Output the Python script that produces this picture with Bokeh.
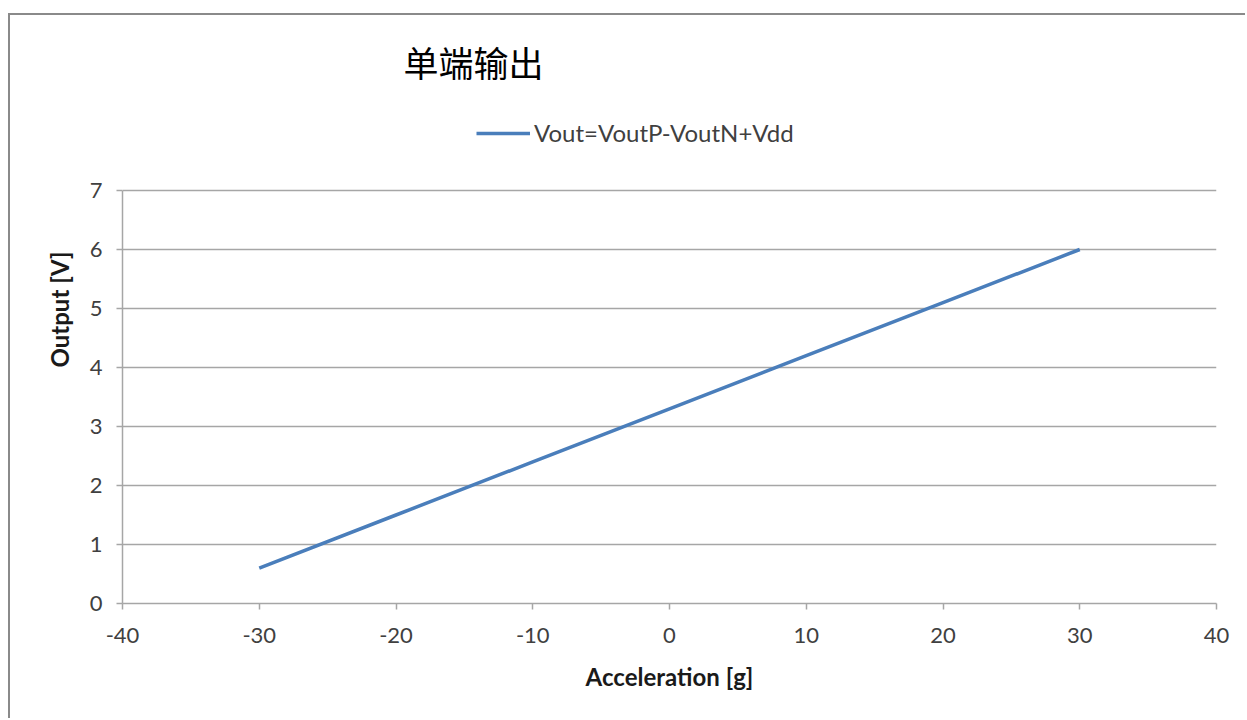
from bokeh.plotting import figure
from bokeh.models import Range1d, FixedTicker, Legend, LegendItem, Label, CustomJSTickFormatter
from bokeh.embed import file_html
from bokeh.resources import INLINE

# data
accel = [-30, -20, -10, 0, 10, 20, 30]
vout = [0.6, 1.5, 2.4, 3.3, 4.2, 5.1, 6.0]
x_ticks = [-40, -30, -20, -10, 0, 10, 20, 30, 40]
y_ticks = [0, 1, 2, 3, 4, 5, 6, 7]
title_text = "单端输出"
series_name = "Vout=VoutP-VoutN+Vdd"
x_label = "Acceleration [g]"
y_label = "Output [V]"

FONT = "Lato"
GRID = "#a6a6a6"
TXT = "#404040"
BLUE = "#4a7ebb"

OX, OY = 10, 15  # canvas offset produced by margin + border
FRAME_TOP, AXIS_TOP, FRAME_BOTTOM = 15, 190, 603  # page pixels
y_min, y_max = y_ticks[0], y_ticks[-1]
y_end = y_min + (y_max - y_min) * (FRAME_BOTTOM - FRAME_TOP) / (FRAME_BOTTOM - AXIS_TOP)

p = figure(width=1247 - OX, height=720 - OY, output_backend="svg", toolbar_location=None,
           x_range=Range1d(x_ticks[0], x_ticks[-1]), y_range=Range1d(y_min, y_end),
           min_border_left=122 - OX, min_border_right=31, min_border_top=FRAME_TOP - OY,
           min_border_bottom=720 - FRAME_BOTTOM)
p.margin = (13, 0, 0, 8)
p.styles = {"border-left": "2px solid #8a8a8a", "border-top": "2px solid #8a8a8a"}
p.outline_line_color = None
p.background_fill_color = "white"
p.border_fill_color = "white"

r = p.line(accel, vout, line_color=BLUE, line_width=3.5)

p.xgrid.visible = False
p.ygrid.grid_line_color = GRID
p.ygrid.grid_line_width = 1.5

fmt = CustomJSTickFormatter(code="return String(tick);")
p.xaxis.ticker = FixedTicker(ticks=x_ticks)
p.yaxis.ticker = FixedTicker(ticks=y_ticks)
p.yaxis.bounds = (y_min, y_max)
for ax in (p.xaxis[0], p.yaxis[0]):
    ax.formatter = fmt
    ax.axis_line_color = GRID
    ax.axis_line_width = 1.5
    ax.major_tick_line_color = GRID
    ax.major_tick_line_width = 1.5
    ax.major_tick_out = 6
    ax.major_tick_in = 0
    ax.minor_tick_line_color = None
    ax.major_label_text_font = FONT
    ax.major_label_text_font_size = "22px"
    ax.major_label_text_color = TXT
    ax.axis_label_text_font = FONT
    ax.axis_label_text_font_size = "24px"
    ax.axis_label_text_font_style = "bold"
    ax.axis_label_text_color = "#1a1a1a"
p.xaxis.major_label_standoff = 18
p.yaxis.major_label_standoff = 14
p.xaxis.axis_label = x_label
p.yaxis.axis_label = y_label
p.xaxis.axis_label_standoff = 16
p.yaxis.axis_label_standoff = 13

legend = Legend(items=[LegendItem(label=series_name, renderers=[r])],
                location=(354, 456), orientation="horizontal",
                glyph_width=54, glyph_height=24, label_height=24, label_standoff=4,
                padding=0, margin=0, spacing=0,
                border_line_color=None, background_fill_alpha=0,
                label_text_font=FONT, label_text_font_size="24px", label_text_color=TXT)
p.add_layout(legend, "center")

title = Label(x=473 - 122, y=FRAME_BOTTOM - 61, x_units="screen", y_units="screen", text=title_text,
              text_font="Noto Sans CJK SC", text_font_size="35px", text_color="#000000",
              text_align="center", text_baseline="middle")
p.add_layout(title)

open("out.html", "w").write(file_html(p, INLINE))
